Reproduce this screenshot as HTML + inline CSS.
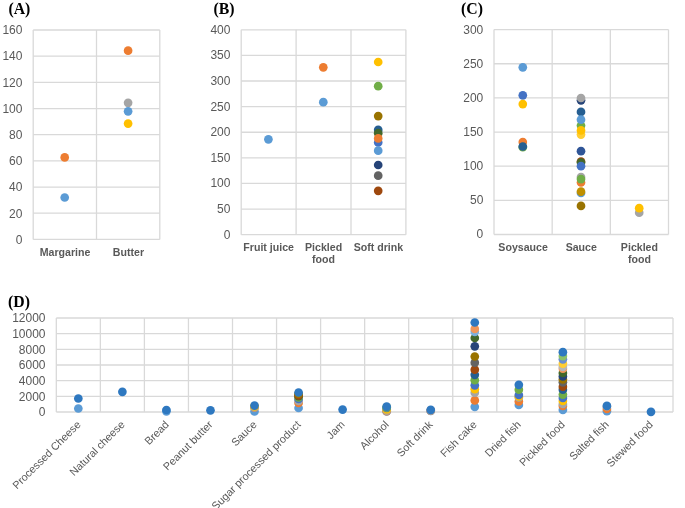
<!DOCTYPE html>
<html><head><meta charset="utf-8"><style>
html,body{margin:0;padding:0;background:#fff;overflow:hidden;}
svg{display:block;will-change:transform;}

</style></head><body>
<svg width="685" height="508" viewBox="0 0 685 508">
<rect width="685" height="508" fill="#fff"/>
<line x1="33.20" y1="30.00" x2="159.80" y2="30.00" stroke="#D9D9D9" stroke-width="1.3"/>
<line x1="33.20" y1="56.17" x2="159.80" y2="56.17" stroke="#D9D9D9" stroke-width="1.3"/>
<line x1="33.20" y1="82.35" x2="159.80" y2="82.35" stroke="#D9D9D9" stroke-width="1.3"/>
<line x1="33.20" y1="108.53" x2="159.80" y2="108.53" stroke="#D9D9D9" stroke-width="1.3"/>
<line x1="33.20" y1="134.70" x2="159.80" y2="134.70" stroke="#D9D9D9" stroke-width="1.3"/>
<line x1="33.20" y1="160.88" x2="159.80" y2="160.88" stroke="#D9D9D9" stroke-width="1.3"/>
<line x1="33.20" y1="187.05" x2="159.80" y2="187.05" stroke="#D9D9D9" stroke-width="1.3"/>
<line x1="33.20" y1="213.22" x2="159.80" y2="213.22" stroke="#D9D9D9" stroke-width="1.3"/>
<line x1="33.20" y1="239.40" x2="159.80" y2="239.40" stroke="#D9D9D9" stroke-width="1.3"/>
<line x1="33.20" y1="30.00" x2="33.20" y2="239.40" stroke="#D9D9D9" stroke-width="1.3"/>
<line x1="96.50" y1="30.00" x2="96.50" y2="239.40" stroke="#D9D9D9" stroke-width="1.3"/>
<line x1="159.80" y1="30.00" x2="159.80" y2="239.40" stroke="#D9D9D9" stroke-width="1.3"/>
<text transform="translate(22.40,243.70) scale(1.0,1.04)" font-family="Liberation Sans, sans-serif" font-size="12" font-weight="normal" text-anchor="end" fill="#595959">0</text>
<text transform="translate(22.40,217.53) scale(1.0,1.04)" font-family="Liberation Sans, sans-serif" font-size="12" font-weight="normal" text-anchor="end" fill="#595959">20</text>
<text transform="translate(22.40,191.35) scale(1.0,1.04)" font-family="Liberation Sans, sans-serif" font-size="12" font-weight="normal" text-anchor="end" fill="#595959">40</text>
<text transform="translate(22.40,165.18) scale(1.0,1.04)" font-family="Liberation Sans, sans-serif" font-size="12" font-weight="normal" text-anchor="end" fill="#595959">60</text>
<text transform="translate(22.40,139.00) scale(1.0,1.04)" font-family="Liberation Sans, sans-serif" font-size="12" font-weight="normal" text-anchor="end" fill="#595959">80</text>
<text transform="translate(22.40,112.83) scale(1.0,1.04)" font-family="Liberation Sans, sans-serif" font-size="12" font-weight="normal" text-anchor="end" fill="#595959">100</text>
<text transform="translate(22.40,86.65) scale(1.0,1.04)" font-family="Liberation Sans, sans-serif" font-size="12" font-weight="normal" text-anchor="end" fill="#595959">120</text>
<text transform="translate(22.40,60.48) scale(1.0,1.04)" font-family="Liberation Sans, sans-serif" font-size="12" font-weight="normal" text-anchor="end" fill="#595959">140</text>
<text transform="translate(22.40,34.30) scale(1.0,1.04)" font-family="Liberation Sans, sans-serif" font-size="12" font-weight="normal" text-anchor="end" fill="#595959">160</text>
<text transform="translate(8.40,13.80)" font-family="Liberation Serif, serif" font-size="15.8" font-weight="bold" text-anchor="start" fill="#000">(A)</text>
<text transform="translate(65.00,256.00)" font-family="Liberation Sans, sans-serif" font-size="10.6" font-weight="bold" text-anchor="middle" fill="#595959">Margarine</text>
<text transform="translate(128.40,256.00)" font-family="Liberation Sans, sans-serif" font-size="10.6" font-weight="bold" text-anchor="middle" fill="#595959">Butter</text>
<circle cx="64.70" cy="197.50" r="4.35" fill="#5B9BD5"/>
<circle cx="64.70" cy="157.40" r="4.35" fill="#ED7D31"/>
<circle cx="128.10" cy="50.65" r="4.35" fill="#ED7D31"/>
<circle cx="128.10" cy="102.80" r="4.35" fill="#A5A5A5"/>
<circle cx="128.10" cy="111.30" r="4.35" fill="#5B9BD5"/>
<circle cx="128.10" cy="123.60" r="4.35" fill="#FFC000"/>
<line x1="241.20" y1="29.80" x2="405.90" y2="29.80" stroke="#D9D9D9" stroke-width="1.3"/>
<line x1="241.20" y1="55.41" x2="405.90" y2="55.41" stroke="#D9D9D9" stroke-width="1.3"/>
<line x1="241.20" y1="81.02" x2="405.90" y2="81.02" stroke="#D9D9D9" stroke-width="1.3"/>
<line x1="241.20" y1="106.64" x2="405.90" y2="106.64" stroke="#D9D9D9" stroke-width="1.3"/>
<line x1="241.20" y1="132.25" x2="405.90" y2="132.25" stroke="#D9D9D9" stroke-width="1.3"/>
<line x1="241.20" y1="157.86" x2="405.90" y2="157.86" stroke="#D9D9D9" stroke-width="1.3"/>
<line x1="241.20" y1="183.47" x2="405.90" y2="183.47" stroke="#D9D9D9" stroke-width="1.3"/>
<line x1="241.20" y1="209.09" x2="405.90" y2="209.09" stroke="#D9D9D9" stroke-width="1.3"/>
<line x1="241.20" y1="234.70" x2="405.90" y2="234.70" stroke="#D9D9D9" stroke-width="1.3"/>
<line x1="241.20" y1="29.80" x2="241.20" y2="234.70" stroke="#D9D9D9" stroke-width="1.3"/>
<line x1="296.10" y1="29.80" x2="296.10" y2="234.70" stroke="#D9D9D9" stroke-width="1.3"/>
<line x1="351.00" y1="29.80" x2="351.00" y2="234.70" stroke="#D9D9D9" stroke-width="1.3"/>
<line x1="405.90" y1="29.80" x2="405.90" y2="234.70" stroke="#D9D9D9" stroke-width="1.3"/>
<text transform="translate(230.40,238.65) scale(1.0,1.04)" font-family="Liberation Sans, sans-serif" font-size="12" font-weight="normal" text-anchor="end" fill="#595959">0</text>
<text transform="translate(230.40,213.04) scale(1.0,1.04)" font-family="Liberation Sans, sans-serif" font-size="12" font-weight="normal" text-anchor="end" fill="#595959">50</text>
<text transform="translate(230.40,187.42) scale(1.0,1.04)" font-family="Liberation Sans, sans-serif" font-size="12" font-weight="normal" text-anchor="end" fill="#595959">100</text>
<text transform="translate(230.40,161.81) scale(1.0,1.04)" font-family="Liberation Sans, sans-serif" font-size="12" font-weight="normal" text-anchor="end" fill="#595959">150</text>
<text transform="translate(230.40,136.20) scale(1.0,1.04)" font-family="Liberation Sans, sans-serif" font-size="12" font-weight="normal" text-anchor="end" fill="#595959">200</text>
<text transform="translate(230.40,110.59) scale(1.0,1.04)" font-family="Liberation Sans, sans-serif" font-size="12" font-weight="normal" text-anchor="end" fill="#595959">250</text>
<text transform="translate(230.40,84.98) scale(1.0,1.04)" font-family="Liberation Sans, sans-serif" font-size="12" font-weight="normal" text-anchor="end" fill="#595959">300</text>
<text transform="translate(230.40,59.36) scale(1.0,1.04)" font-family="Liberation Sans, sans-serif" font-size="12" font-weight="normal" text-anchor="end" fill="#595959">350</text>
<text transform="translate(230.40,33.75) scale(1.0,1.04)" font-family="Liberation Sans, sans-serif" font-size="12" font-weight="normal" text-anchor="end" fill="#595959">400</text>
<text transform="translate(213.40,13.80)" font-family="Liberation Serif, serif" font-size="15.8" font-weight="bold" text-anchor="start" fill="#000">(B)</text>
<text transform="translate(268.65,250.80)" font-family="Liberation Sans, sans-serif" font-size="10.6" font-weight="bold" text-anchor="middle" fill="#595959">Fruit juice</text>
<text transform="translate(323.55,250.80)" font-family="Liberation Sans, sans-serif" font-size="10.6" font-weight="bold" text-anchor="middle" fill="#595959">Pickled</text>
<text transform="translate(323.55,262.60)" font-family="Liberation Sans, sans-serif" font-size="10.6" font-weight="bold" text-anchor="middle" fill="#595959">food</text>
<text transform="translate(378.45,250.80)" font-family="Liberation Sans, sans-serif" font-size="10.6" font-weight="bold" text-anchor="middle" fill="#595959">Soft drink</text>
<circle cx="268.40" cy="139.30" r="4.35" fill="#5B9BD5"/>
<circle cx="323.30" cy="102.20" r="4.35" fill="#5B9BD5"/>
<circle cx="323.30" cy="67.30" r="4.35" fill="#ED7D31"/>
<circle cx="378.20" cy="62.00" r="4.35" fill="#FFC000"/>
<circle cx="378.20" cy="86.20" r="4.35" fill="#70AD47"/>
<circle cx="378.20" cy="116.10" r="4.35" fill="#997300"/>
<circle cx="378.20" cy="129.90" r="4.35" fill="#255E91"/>
<circle cx="378.20" cy="133.20" r="4.35" fill="#43682B"/>
<circle cx="378.20" cy="142.50" r="4.35" fill="#4472C4"/>
<circle cx="378.20" cy="138.40" r="4.35" fill="#ED7D31"/>
<circle cx="378.20" cy="150.70" r="4.35" fill="#5B9BD5"/>
<circle cx="378.20" cy="165.00" r="4.35" fill="#264478"/>
<circle cx="378.20" cy="175.70" r="4.35" fill="#636363"/>
<circle cx="378.20" cy="190.80" r="4.35" fill="#9E480E"/>
<line x1="494.00" y1="29.60" x2="668.50" y2="29.60" stroke="#D9D9D9" stroke-width="1.3"/>
<line x1="494.00" y1="63.75" x2="668.50" y2="63.75" stroke="#D9D9D9" stroke-width="1.3"/>
<line x1="494.00" y1="97.90" x2="668.50" y2="97.90" stroke="#D9D9D9" stroke-width="1.3"/>
<line x1="494.00" y1="132.05" x2="668.50" y2="132.05" stroke="#D9D9D9" stroke-width="1.3"/>
<line x1="494.00" y1="166.20" x2="668.50" y2="166.20" stroke="#D9D9D9" stroke-width="1.3"/>
<line x1="494.00" y1="200.35" x2="668.50" y2="200.35" stroke="#D9D9D9" stroke-width="1.3"/>
<line x1="494.00" y1="234.50" x2="668.50" y2="234.50" stroke="#D9D9D9" stroke-width="1.3"/>
<line x1="494.00" y1="29.60" x2="494.00" y2="234.50" stroke="#D9D9D9" stroke-width="1.3"/>
<line x1="552.17" y1="29.60" x2="552.17" y2="234.50" stroke="#D9D9D9" stroke-width="1.3"/>
<line x1="610.33" y1="29.60" x2="610.33" y2="234.50" stroke="#D9D9D9" stroke-width="1.3"/>
<line x1="668.50" y1="29.60" x2="668.50" y2="234.50" stroke="#D9D9D9" stroke-width="1.3"/>
<text transform="translate(483.30,238.45) scale(1.0,1.04)" font-family="Liberation Sans, sans-serif" font-size="12" font-weight="normal" text-anchor="end" fill="#595959">0</text>
<text transform="translate(483.30,204.30) scale(1.0,1.04)" font-family="Liberation Sans, sans-serif" font-size="12" font-weight="normal" text-anchor="end" fill="#595959">50</text>
<text transform="translate(483.30,170.15) scale(1.0,1.04)" font-family="Liberation Sans, sans-serif" font-size="12" font-weight="normal" text-anchor="end" fill="#595959">100</text>
<text transform="translate(483.30,136.00) scale(1.0,1.04)" font-family="Liberation Sans, sans-serif" font-size="12" font-weight="normal" text-anchor="end" fill="#595959">150</text>
<text transform="translate(483.30,101.85) scale(1.0,1.04)" font-family="Liberation Sans, sans-serif" font-size="12" font-weight="normal" text-anchor="end" fill="#595959">200</text>
<text transform="translate(483.30,67.70) scale(1.0,1.04)" font-family="Liberation Sans, sans-serif" font-size="12" font-weight="normal" text-anchor="end" fill="#595959">250</text>
<text transform="translate(483.30,33.55) scale(1.0,1.04)" font-family="Liberation Sans, sans-serif" font-size="12" font-weight="normal" text-anchor="end" fill="#595959">300</text>
<text transform="translate(461.10,13.80)" font-family="Liberation Serif, serif" font-size="15.8" font-weight="bold" text-anchor="start" fill="#000">(C)</text>
<text transform="translate(523.08,250.80)" font-family="Liberation Sans, sans-serif" font-size="10.6" font-weight="bold" text-anchor="middle" fill="#595959">Soysauce</text>
<text transform="translate(581.25,250.80)" font-family="Liberation Sans, sans-serif" font-size="10.6" font-weight="bold" text-anchor="middle" fill="#595959">Sauce</text>
<text transform="translate(639.42,250.80)" font-family="Liberation Sans, sans-serif" font-size="10.6" font-weight="bold" text-anchor="middle" fill="#595959">Pickled</text>
<text transform="translate(639.42,262.60)" font-family="Liberation Sans, sans-serif" font-size="10.6" font-weight="bold" text-anchor="middle" fill="#595959">food</text>
<circle cx="522.80" cy="67.30" r="4.35" fill="#5B9BD5"/>
<circle cx="522.80" cy="95.30" r="4.35" fill="#4472C4"/>
<circle cx="522.80" cy="104.10" r="4.35" fill="#FFC000"/>
<circle cx="522.80" cy="142.00" r="4.35" fill="#ED7D31"/>
<circle cx="522.80" cy="147.20" r="4.35" fill="#70AD47"/>
<circle cx="522.80" cy="146.50" r="4.35" fill="#255E91"/>
<circle cx="581.00" cy="100.30" r="4.35" fill="#264478"/>
<circle cx="581.00" cy="98.00" r="4.35" fill="#A5A5A5"/>
<circle cx="581.00" cy="111.90" r="4.35" fill="#255E91"/>
<circle cx="581.00" cy="125.60" r="4.35" fill="#70AD47"/>
<circle cx="581.00" cy="119.70" r="4.35" fill="#5B9BD5"/>
<circle cx="581.00" cy="134.60" r="4.35" fill="#FFCD33"/>
<circle cx="581.00" cy="130.40" r="4.35" fill="#FFC000"/>
<circle cx="581.00" cy="151.20" r="4.35" fill="#2F5597"/>
<circle cx="581.00" cy="161.50" r="4.35" fill="#9E480E"/>
<circle cx="581.00" cy="162.50" r="4.35" fill="#43682B"/>
<circle cx="581.00" cy="166.20" r="4.35" fill="#4472C4"/>
<circle cx="581.00" cy="182.50" r="4.35" fill="#ED7D31"/>
<circle cx="581.00" cy="177.00" r="4.35" fill="#A5A5A5"/>
<circle cx="581.00" cy="179.10" r="4.35" fill="#70AD47"/>
<circle cx="581.00" cy="193.00" r="4.35" fill="#5B9BD5"/>
<circle cx="581.00" cy="191.70" r="4.35" fill="#BF9000"/>
<circle cx="581.00" cy="205.90" r="4.35" fill="#997300"/>
<circle cx="639.20" cy="212.70" r="4.35" fill="#A5A5A5"/>
<circle cx="639.20" cy="208.20" r="4.35" fill="#FFC000"/>
<line x1="56.30" y1="318.00" x2="673.00" y2="318.00" stroke="#D9D9D9" stroke-width="1.3"/>
<line x1="56.30" y1="333.67" x2="673.00" y2="333.67" stroke="#D9D9D9" stroke-width="1.3"/>
<line x1="56.30" y1="349.33" x2="673.00" y2="349.33" stroke="#D9D9D9" stroke-width="1.3"/>
<line x1="56.30" y1="365.00" x2="673.00" y2="365.00" stroke="#D9D9D9" stroke-width="1.3"/>
<line x1="56.30" y1="380.67" x2="673.00" y2="380.67" stroke="#D9D9D9" stroke-width="1.3"/>
<line x1="56.30" y1="396.33" x2="673.00" y2="396.33" stroke="#D9D9D9" stroke-width="1.3"/>
<line x1="56.30" y1="412.00" x2="673.00" y2="412.00" stroke="#D9D9D9" stroke-width="1.3"/>
<line x1="56.30" y1="318.00" x2="56.30" y2="412.00" stroke="#D9D9D9" stroke-width="1.3"/>
<line x1="100.35" y1="318.00" x2="100.35" y2="412.00" stroke="#D9D9D9" stroke-width="1.3"/>
<line x1="144.40" y1="318.00" x2="144.40" y2="412.00" stroke="#D9D9D9" stroke-width="1.3"/>
<line x1="188.45" y1="318.00" x2="188.45" y2="412.00" stroke="#D9D9D9" stroke-width="1.3"/>
<line x1="232.50" y1="318.00" x2="232.50" y2="412.00" stroke="#D9D9D9" stroke-width="1.3"/>
<line x1="276.55" y1="318.00" x2="276.55" y2="412.00" stroke="#D9D9D9" stroke-width="1.3"/>
<line x1="320.60" y1="318.00" x2="320.60" y2="412.00" stroke="#D9D9D9" stroke-width="1.3"/>
<line x1="364.65" y1="318.00" x2="364.65" y2="412.00" stroke="#D9D9D9" stroke-width="1.3"/>
<line x1="408.70" y1="318.00" x2="408.70" y2="412.00" stroke="#D9D9D9" stroke-width="1.3"/>
<line x1="452.75" y1="318.00" x2="452.75" y2="412.00" stroke="#D9D9D9" stroke-width="1.3"/>
<line x1="496.80" y1="318.00" x2="496.80" y2="412.00" stroke="#D9D9D9" stroke-width="1.3"/>
<line x1="540.85" y1="318.00" x2="540.85" y2="412.00" stroke="#D9D9D9" stroke-width="1.3"/>
<line x1="584.90" y1="318.00" x2="584.90" y2="412.00" stroke="#D9D9D9" stroke-width="1.3"/>
<line x1="628.95" y1="318.00" x2="628.95" y2="412.00" stroke="#D9D9D9" stroke-width="1.3"/>
<line x1="673.00" y1="318.00" x2="673.00" y2="412.00" stroke="#D9D9D9" stroke-width="1.3"/>
<text transform="translate(45.50,416.30) scale(1.0,1.04)" font-family="Liberation Sans, sans-serif" font-size="12" font-weight="normal" text-anchor="end" fill="#595959">0</text>
<text transform="translate(45.50,400.63) scale(1.0,1.04)" font-family="Liberation Sans, sans-serif" font-size="12" font-weight="normal" text-anchor="end" fill="#595959">2000</text>
<text transform="translate(45.50,384.97) scale(1.0,1.04)" font-family="Liberation Sans, sans-serif" font-size="12" font-weight="normal" text-anchor="end" fill="#595959">4000</text>
<text transform="translate(45.50,369.30) scale(1.0,1.04)" font-family="Liberation Sans, sans-serif" font-size="12" font-weight="normal" text-anchor="end" fill="#595959">6000</text>
<text transform="translate(45.50,353.63) scale(1.0,1.04)" font-family="Liberation Sans, sans-serif" font-size="12" font-weight="normal" text-anchor="end" fill="#595959">8000</text>
<text transform="translate(45.50,337.97) scale(1.0,1.04)" font-family="Liberation Sans, sans-serif" font-size="12" font-weight="normal" text-anchor="end" fill="#595959">10000</text>
<text transform="translate(45.50,322.30) scale(1.0,1.04)" font-family="Liberation Sans, sans-serif" font-size="12" font-weight="normal" text-anchor="end" fill="#595959">12000</text>
<text transform="translate(8.00,307.20)" font-family="Liberation Serif, serif" font-size="15.8" font-weight="bold" text-anchor="start" fill="#000">(D)</text>
<text transform="translate(81.42,425.20) rotate(-45)" font-family="Liberation Sans, sans-serif" font-size="10.8" font-weight="normal" text-anchor="end" fill="#595959">Processed Cheese</text>
<text transform="translate(125.42,425.20) rotate(-45)" font-family="Liberation Sans, sans-serif" font-size="10.8" font-weight="normal" text-anchor="end" fill="#595959">Natural cheese</text>
<text transform="translate(169.42,425.20) rotate(-45)" font-family="Liberation Sans, sans-serif" font-size="10.8" font-weight="normal" text-anchor="end" fill="#595959">Bread</text>
<text transform="translate(213.41,425.20) rotate(-45)" font-family="Liberation Sans, sans-serif" font-size="10.8" font-weight="normal" text-anchor="end" fill="#595959">Peanut butter</text>
<text transform="translate(257.41,425.20) rotate(-45)" font-family="Liberation Sans, sans-serif" font-size="10.8" font-weight="normal" text-anchor="end" fill="#595959">Sauce</text>
<text transform="translate(301.41,425.20) rotate(-45)" font-family="Liberation Sans, sans-serif" font-size="10.8" font-weight="normal" text-anchor="end" fill="#595959">Sugar processed product</text>
<text transform="translate(345.40,425.20) rotate(-45)" font-family="Liberation Sans, sans-serif" font-size="10.8" font-weight="normal" text-anchor="end" fill="#595959">Jam</text>
<text transform="translate(389.40,425.20) rotate(-45)" font-family="Liberation Sans, sans-serif" font-size="10.8" font-weight="normal" text-anchor="end" fill="#595959">Alcohol</text>
<text transform="translate(433.39,425.20) rotate(-45)" font-family="Liberation Sans, sans-serif" font-size="10.8" font-weight="normal" text-anchor="end" fill="#595959">Soft drink</text>
<text transform="translate(477.39,425.20) rotate(-45)" font-family="Liberation Sans, sans-serif" font-size="10.8" font-weight="normal" text-anchor="end" fill="#595959">Fish cake</text>
<text transform="translate(521.39,425.20) rotate(-45)" font-family="Liberation Sans, sans-serif" font-size="10.8" font-weight="normal" text-anchor="end" fill="#595959">Dried fish</text>
<text transform="translate(565.38,425.20) rotate(-45)" font-family="Liberation Sans, sans-serif" font-size="10.8" font-weight="normal" text-anchor="end" fill="#595959">Pickled food</text>
<text transform="translate(609.38,425.20) rotate(-45)" font-family="Liberation Sans, sans-serif" font-size="10.8" font-weight="normal" text-anchor="end" fill="#595959">Salted fish</text>
<text transform="translate(653.38,425.20) rotate(-45)" font-family="Liberation Sans, sans-serif" font-size="10.8" font-weight="normal" text-anchor="end" fill="#595959">Stewed food</text>
<circle cx="78.33" cy="408.50" r="4.35" fill="#5B9BD5"/>
<circle cx="78.33" cy="398.50" r="4.35" fill="#2E78C0"/>
<circle cx="122.38" cy="391.80" r="4.35" fill="#2E78C0"/>
<circle cx="166.43" cy="411.30" r="4.35" fill="#5B9BD5"/>
<circle cx="166.43" cy="410.00" r="4.35" fill="#2E78C0"/>
<circle cx="210.48" cy="410.30" r="4.35" fill="#2E78C0"/>
<circle cx="254.52" cy="411.50" r="4.35" fill="#5B9BD5"/>
<circle cx="254.52" cy="407.60" r="4.35" fill="#ED7D31"/>
<circle cx="254.52" cy="407.30" r="4.35" fill="#A5A5A5"/>
<circle cx="254.52" cy="406.40" r="4.35" fill="#FFC000"/>
<circle cx="254.52" cy="405.60" r="4.35" fill="#2E78C0"/>
<circle cx="298.58" cy="408.00" r="4.35" fill="#5B9BD5"/>
<circle cx="298.58" cy="403.00" r="4.35" fill="#ED7D31"/>
<circle cx="298.58" cy="401.00" r="4.35" fill="#A5A5A5"/>
<circle cx="298.58" cy="399.00" r="4.35" fill="#4472C4"/>
<circle cx="298.58" cy="397.40" r="4.35" fill="#70AD47"/>
<circle cx="298.58" cy="396.10" r="4.35" fill="#43682B"/>
<circle cx="298.58" cy="395.40" r="4.35" fill="#9E480E"/>
<circle cx="298.58" cy="393.90" r="4.35" fill="#997300"/>
<circle cx="298.58" cy="392.50" r="4.35" fill="#2E78C0"/>
<circle cx="342.62" cy="409.60" r="4.35" fill="#2E78C0"/>
<circle cx="386.68" cy="411.50" r="4.35" fill="#5B9BD5"/>
<circle cx="386.68" cy="411.20" r="4.35" fill="#ED7D31"/>
<circle cx="386.68" cy="410.60" r="4.35" fill="#A5A5A5"/>
<circle cx="386.68" cy="409.40" r="4.35" fill="#FFC000"/>
<circle cx="386.68" cy="408.00" r="4.35" fill="#4472C4"/>
<circle cx="386.68" cy="407.30" r="4.35" fill="#70AD47"/>
<circle cx="386.68" cy="406.60" r="4.35" fill="#2E78C0"/>
<circle cx="430.73" cy="410.90" r="4.35" fill="#5B9BD5"/>
<circle cx="430.73" cy="410.70" r="4.35" fill="#ED7D31"/>
<circle cx="430.73" cy="410.60" r="4.35" fill="#A5A5A5"/>
<circle cx="430.73" cy="409.80" r="4.35" fill="#2E78C0"/>
<circle cx="474.78" cy="406.80" r="4.35" fill="#5B9BD5"/>
<circle cx="474.78" cy="400.40" r="4.35" fill="#ED7D31"/>
<circle cx="474.78" cy="392.70" r="4.35" fill="#A5A5A5"/>
<circle cx="474.78" cy="389.20" r="4.35" fill="#FFC000"/>
<circle cx="474.78" cy="385.30" r="4.35" fill="#4472C4"/>
<circle cx="474.78" cy="380.20" r="4.35" fill="#70AD47"/>
<circle cx="474.78" cy="374.80" r="4.35" fill="#255E91"/>
<circle cx="474.78" cy="369.70" r="4.35" fill="#9E480E"/>
<circle cx="474.78" cy="362.70" r="4.35" fill="#636363"/>
<circle cx="474.78" cy="356.50" r="4.35" fill="#997300"/>
<circle cx="474.78" cy="346.30" r="4.35" fill="#264478"/>
<circle cx="474.78" cy="338.00" r="4.35" fill="#43682B"/>
<circle cx="474.78" cy="331.80" r="4.35" fill="#7CAFDD"/>
<circle cx="474.78" cy="328.90" r="4.35" fill="#F1975A"/>
<circle cx="474.78" cy="322.50" r="4.35" fill="#2E78C0"/>
<circle cx="518.83" cy="405.00" r="4.35" fill="#5B9BD5"/>
<circle cx="518.83" cy="401.50" r="4.35" fill="#ED7D31"/>
<circle cx="518.83" cy="397.40" r="4.35" fill="#A5A5A5"/>
<circle cx="518.83" cy="396.50" r="4.35" fill="#FFC000"/>
<circle cx="518.83" cy="395.00" r="4.35" fill="#4472C4"/>
<circle cx="518.83" cy="389.70" r="4.35" fill="#70AD47"/>
<circle cx="518.83" cy="384.80" r="4.35" fill="#2E78C0"/>
<circle cx="562.88" cy="409.90" r="4.35" fill="#5B9BD5"/>
<circle cx="562.88" cy="406.00" r="4.35" fill="#ED7D31"/>
<circle cx="562.88" cy="404.00" r="4.35" fill="#A5A5A5"/>
<circle cx="562.88" cy="401.00" r="4.35" fill="#FFC000"/>
<circle cx="562.88" cy="398.00" r="4.35" fill="#4472C4"/>
<circle cx="562.88" cy="394.60" r="4.35" fill="#70AD47"/>
<circle cx="562.88" cy="389.70" r="4.35" fill="#255E91"/>
<circle cx="562.88" cy="386.70" r="4.35" fill="#9E480E"/>
<circle cx="562.88" cy="382.30" r="4.35" fill="#636363"/>
<circle cx="562.88" cy="379.40" r="4.35" fill="#997300"/>
<circle cx="562.88" cy="376.40" r="4.35" fill="#264478"/>
<circle cx="562.88" cy="373.00" r="4.35" fill="#43682B"/>
<circle cx="562.88" cy="368.70" r="4.35" fill="#F1975A"/>
<circle cx="562.88" cy="366.80" r="4.35" fill="#B7B7B7"/>
<circle cx="562.88" cy="363.60" r="4.35" fill="#FFCD33"/>
<circle cx="562.88" cy="359.30" r="4.35" fill="#698ED0"/>
<circle cx="562.88" cy="356.10" r="4.35" fill="#8CC168"/>
<circle cx="562.88" cy="352.20" r="4.35" fill="#2E78C0"/>
<circle cx="606.93" cy="411.20" r="4.35" fill="#5B9BD5"/>
<circle cx="606.93" cy="408.90" r="4.35" fill="#ED7D31"/>
<circle cx="606.93" cy="406.40" r="4.35" fill="#A5A5A5"/>
<circle cx="606.93" cy="405.90" r="4.35" fill="#2E78C0"/>
<circle cx="650.98" cy="411.80" r="4.35" fill="#2E78C0"/>
</svg>
</body></html>
